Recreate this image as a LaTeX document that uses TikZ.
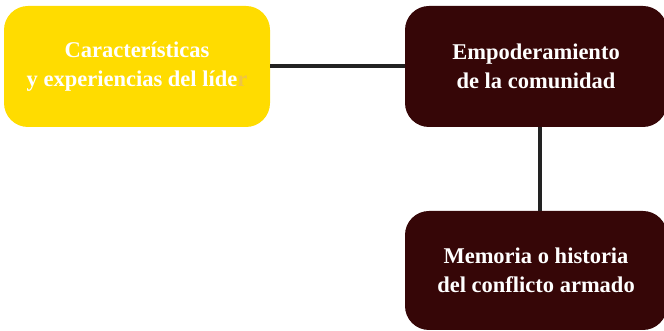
\documentclass[tikz,border=0pt]{standalone}
\usepackage{fontspec}
\setmainfont{Liberation Serif}
\definecolor{gold}{RGB}{255,220,0}
\definecolor{maroon}{RGB}{54,6,7}
\definecolor{linegray}{RGB}{34,34,34}
\definecolor{rtint}{RGB}{238,196,70}
\begin{document}
\begin{tikzpicture}[x=1pt,y=1pt,
  box/.style={rounded corners=24pt, minimum width=265pt, minimum height=120pt, inner sep=0pt, align=center, text=white, font=\fontsize{22.5}{29.5}\selectfont\bfseries},
  link/.style={draw=linegray, line width=4pt}]
\useasboundingbox (0,0) rectangle (664,331);
\node[box, fill=gold, minimum width=266pt, minimum height=121pt] (lider) at (137,264.5) {Características\\y experiencias del líde\textcolor{rtint}{r}};
\node[box, fill=maroon, minimum width=262pt, minimum height=121pt] (empo) at (536,264.5) {Empoderamiento\\de la comunidad};
\node[box, fill=maroon, minimum width=262pt, minimum height=119pt] (memo) at (536,60.5) {Memoria o historia\\del conflicto armado};
\draw[link] (lider.east) -- (empo.west);
\draw[link] (empo.south) ++(4,0) coordinate (es) -- (es |- memo.north);
\end{tikzpicture}
\end{document}
